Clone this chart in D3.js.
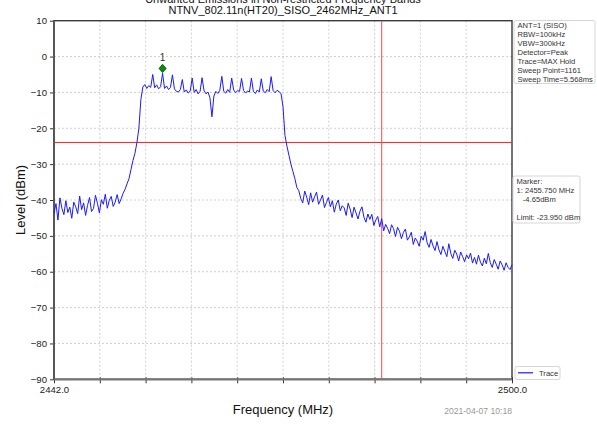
<!DOCTYPE html>
<html>
<head>
<meta charset="utf-8">
<script src="https://cdn.jsdelivr.net/npm/d3@7"></script>
<style>
  body { margin: 0; background: #fff; }
  svg { display: block; font-family: "Liberation Sans", Arial, sans-serif; }
</style>
</head>
<body>
<svg id="chart" width="597" height="432"></svg>
<script>
// ---- chart content ----
const titleLines = [
  "Unwanted Emissions in Non-restricted Frequency Bands",
  "NTNV_802.11n(HT20)_SISO_2462MHz_ANT1"
];
const yTicks = [10, 0, -10, -20, -30, -40, -50, -60, -70, -80, -90];
const yTickLabels = ["10", "0", "\u221210", "\u221220", "\u221230", "\u221240", "\u221250", "\u221260", "\u221270", "\u221280", "\u221290"];
const xTicks = [2442, 2447.8, 2453.6, 2459.4, 2465.2, 2471, 2476.8, 2482.6, 2488.4, 2494.2, 2500];
const xTickLabels = ["2442.0", "", "", "", "", "", "", "", "", "", "2500.0"];

// sweep: start frequency and step (MHz) of the trace samples
const sweepStart = 2442;
const sweepStep = 0.25;
// max-hold trace levels (dBm), one per sweep sample
const traceLevel = [
  // 2442.00 – 2450.75
  -43.8, -41.0, -45.6, -39.4, -42.3, -44.1, -40.2, -43.5, -42.0, -45.1,
  -40.6, -41.9, -43.8, -38.9, -42.7, -40.8, -44.3, -41.5, -39.3, -43.2,
  -42.4, -38.7, -40.9, -43.6, -39.9, -41.2, -38.4, -42.3, -40.1, -39.0,
  -41.8, -40.6, -38.5, -41.0, -39.7, -38.1,
  // lower skirt 2451.00 – 2453.00
  -37.0, -35.5, -34.0, -31.5, -29.0, -27.0, -24.0, -20.0, -12.0,
  // in-band 2453.25 – 2470.75
  -8.5, -7.8, -8.9, -8.1, -8.6, -5.0, -8.7, -7.9, -9.0, -8.4,
  -4.65, -8.9, -8.2, -9.2, -8.6, -5.1, -9.0, -9.7, -9.9, -9.2,
  -6.4, -9.9, -9.3, -10.2, -9.6, -6.0, -10.0, -9.2, -10.4, -9.7,
  -5.9, -9.5, -10.4, -9.9, -11.5, -16.8, -11.0, -9.7, -10.3, -9.4,
  -5.5, -9.7, -10.2, -9.2, -10.0, -6.0, -9.3, -10.1, -9.5, -9.7,
  -6.1, -9.4, -10.2, -9.6, -9.9, -6.0, -9.7, -10.3, -9.3, -9.9,
  -6.2, -9.6, -10.1, -9.2, -9.8, -5.6, -9.5, -10.1, -9.4, -9.8,
  -10.3,
  // upper skirt 2471.00 – 2472.75
  -14.0, -22.0, -25.0, -27.5, -30.0, -32.0, -34.0, -36.5,
  // 2473.00 – 2500.00
  -37.4, -39.6, -40.8, -37.5, -39.2, -41.3,
  -38.0, -40.6, -39.1, -37.8, -41.2,
  -40.0, -38.6, -42.1, -40.7, -39.3,
  -41.9, -40.2, -43.4, -41.1, -40.0,
  -43.0, -41.6, -42.2, -44.3, -40.9,
  -42.5, -44.9, -42.0, -43.6, -45.3,
  -43.1, -41.9, -44.8, -46.2, -43.9,
  -45.4, -44.0, -47.1, -45.6, -44.6,
  -47.5, -45.2, -48.6, -46.8, -47.9,
  -49.4, -46.9, -48.0, -50.2, -47.6,
  -48.7, -50.8, -49.0, -48.1, -51.2,
  -50.3, -49.0, -52.4, -50.6, -51.5,
  -52.9, -50.1, -51.2, -48.8, -51.9,
  -53.2, -51.0, -52.8, -54.1, -51.6,
  -53.9, -55.2, -52.9, -54.4, -55.8,
  -52.2, -54.9, -56.3, -54.0, -55.1,
  -57.0, -54.5, -55.8, -57.2, -55.3,
  -56.4, -54.8, -57.6, -56.0, -57.9,
  -55.4, -57.3, -58.4, -56.2, -57.8,
  -54.9, -57.5, -58.8, -56.6, -57.9,
  -59.3, -57.0, -58.1, -59.6, -57.5,
  -58.8, -59.4, -58.0
];

const limitLevel = -23.95;      // dBm
const bandEdgeFreq = 2483.5;    // MHz
const markerFreq = 2455.75;     // MHz
const markerLevel = -4.65;      // dBm
const markerName = "1";

const settingsLines = [
  "ANT=1 (SISO)", "RBW=100kHz", "VBW=300kHz", "Detector=Peak",
  "Trace=MAX Hold", "Sweep Point=1161", "Sweep Time=5.568ms"
];
const markerLines = [
  "Marker:", "1: 2455.750 MHz", "   -4.65dBm", "", "Limit: -23.950 dBm"
];
const legendLabel = "Trace";
const timestamp = "2021-04-07 10:18";

// ---- drawing ----
const svg = d3.select("#chart");
const plot = { left: 54, right: 512, top: 20.7, bottom: 379.3 };

const x = d3.scaleLinear().domain([2442, 2500]).range([plot.left, plot.right]);
const y = d3.scaleLinear().domain([-90, 10]).range([plot.bottom, plot.top]);

// titles (the first line sits partly above the top edge)
svg.selectAll("text.title").data(titleLines).join("text")
  .attr("class", "title")
  .attr("x", (plot.left + plot.right) / 2)
  .attr("y", (d, i) => 3.4 + i * 10.6)
  .attr("text-anchor", "middle")
  .attr("font-size", 11)
  .attr("fill", "#111")
  .text(d => d);

// grid
const grid = svg.append("g").attr("stroke", "#c4c4c4").attr("stroke-width", 0.8).attr("stroke-dasharray", "2,2");
grid.selectAll("line.gy").data(yTicks.slice(1, -1)).join("line")
  .attr("x1", plot.left).attr("x2", plot.right)
  .attr("y1", d => y(d)).attr("y2", d => y(d));
grid.selectAll("line.gx").data(xTicks.slice(1, -1)).join("line")
  .attr("y1", plot.top).attr("y2", plot.bottom)
  .attr("x1", d => x(d)).attr("x2", d => x(d));

// axes
const yAxis = d3.axisLeft(y).tickValues(yTicks).tickSize(4).tickPadding(3)
  .tickFormat((d, i) => yTickLabels[i]);
const yg = svg.append("g").attr("transform", `translate(${plot.left},0)`).call(yAxis);
yg.select(".domain").remove();
yg.selectAll(".tick line").attr("stroke", "#333");
yg.selectAll(".tick text").attr("font-size", 9.6).attr("fill", "#222")
  .attr("font-family", "Liberation Sans, Arial, sans-serif");

const xAxis = d3.axisBottom(x).tickValues(xTicks).tickSize(4).tickPadding(3)
  .tickFormat((d, i) => xTickLabels[i]);
const xg = svg.append("g").attr("transform", `translate(0,${plot.bottom})`).call(xAxis);
xg.select(".domain").remove();
xg.selectAll(".tick line").attr("stroke", "#333").attr("y1", -2);
xg.selectAll(".tick text").attr("font-size", 9.6).attr("fill", "#222")
  .attr("font-family", "Liberation Sans, Arial, sans-serif");

// frame
svg.append("rect")
  .attr("x", plot.left).attr("y", plot.top)
  .attr("width", plot.right - plot.left).attr("height", plot.bottom - plot.top)
  .attr("fill", "none").attr("stroke", "#3a3a3a").attr("stroke-width", 1.4);
svg.append("line")
  .attr("x1", plot.left).attr("x2", plot.right)
  .attr("y1", plot.bottom).attr("y2", plot.bottom)
  .attr("stroke", "#777").attr("stroke-width", 2.2);
svg.append("line")
  .attr("x1", plot.left).attr("x2", plot.left)
  .attr("y1", plot.top).attr("y2", plot.bottom)
  .attr("stroke", "#555").attr("stroke-width", 1.8);

// limit and band-edge lines
svg.append("line")
  .attr("x1", plot.left).attr("x2", plot.right)
  .attr("y1", y(limitLevel)).attr("y2", y(limitLevel))
  .attr("stroke", "#ff2020").attr("stroke-width", 1);
svg.append("line")
  .attr("x1", x(bandEdgeFreq)).attr("x2", x(bandEdgeFreq))
  .attr("y1", plot.top).attr("y2", plot.bottom)
  .attr("stroke", "#f24a4a").attr("stroke-width", 1);

// trace
const line = d3.line()
  .x((d, i) => x(sweepStart + i * sweepStep))
  .y(d => y(d));
svg.append("path")
  .datum(traceLevel)
  .attr("d", line)
  .attr("fill", "none")
  .attr("stroke", "#1a1aff")
  .attr("stroke-width", 1)
  .attr("stroke-linejoin", "round");

// marker: diamond sitting on the trace point, with its number above
const mx = x(markerFreq), my = y(markerLevel);
svg.append("path")
  .attr("d", `M${mx},${my - 9} L${mx + 3.6},${my - 4.8} L${mx},${my - 0.6} L${mx - 3.6},${my - 4.8} Z`)
  .attr("fill", "#0a8a0a").attr("stroke", "#056005").attr("stroke-width", 0.8);
svg.append("text")
  .attr("x", mx).attr("y", my - 12)
  .attr("text-anchor", "middle").attr("font-size", 10).attr("fill", "#333")
  .text(markerName);

// axis titles
svg.append("text")
  .attr("transform", `translate(25,${(plot.top + plot.bottom) / 2}) rotate(-90)`)
  .attr("text-anchor", "middle").attr("font-size", 13).attr("fill", "#111")
  .text("Level (dBm)");
svg.append("text")
  .attr("x", (plot.left + plot.right) / 2).attr("y", 414)
  .attr("text-anchor", "middle").attr("font-size", 13).attr("fill", "#111")
  .text("Frequency (MHz)");
svg.append("text")
  .attr("x", plot.right).attr("y", 414)
  .attr("text-anchor", "end").attr("font-size", 8.6).attr("fill", "#999")
  .text(timestamp);

// info boxes on the right
function infoBox(lines, x0, y0, w, h, baseline0) {
  const g = svg.append("g");
  g.append("rect").attr("x", x0).attr("y", y0).attr("width", w).attr("height", h)
    .attr("rx", 2).attr("fill", "#fff").attr("stroke", "#d6d6d6").attr("stroke-width", 1);
  g.selectAll("text").data(lines).join("text")
    .attr("x", x0 + 3.5).attr("y", (d, i) => baseline0 + i * 9.03)
    .attr("font-size", 7.6).attr("fill", "#333")
    .attr("xml:space", "preserve")
    .style("white-space", "pre")
    .text(d => d);
}
infoBox(settingsLines, 514, 20.5, 81, 63, 27.6);
infoBox(markerLines, 513, 176, 67, 47, 184);

// legend
const lg = svg.append("g");
lg.append("rect").attr("x", 515).attr("y", 366.5).attr("width", 45).attr("height", 13)
  .attr("rx", 2).attr("fill", "#fff").attr("stroke", "#d6d6d6");
lg.append("line").attr("x1", 518).attr("x2", 533).attr("y1", 372.8).attr("y2", 372.8)
  .attr("stroke", "#1a1aff").attr("stroke-width", 1.2);
lg.append("text").attr("x", 539).attr("y", 376).attr("font-size", 7.6).attr("fill", "#333")
  .text(legendLabel);
</script>
</body>
</html>
